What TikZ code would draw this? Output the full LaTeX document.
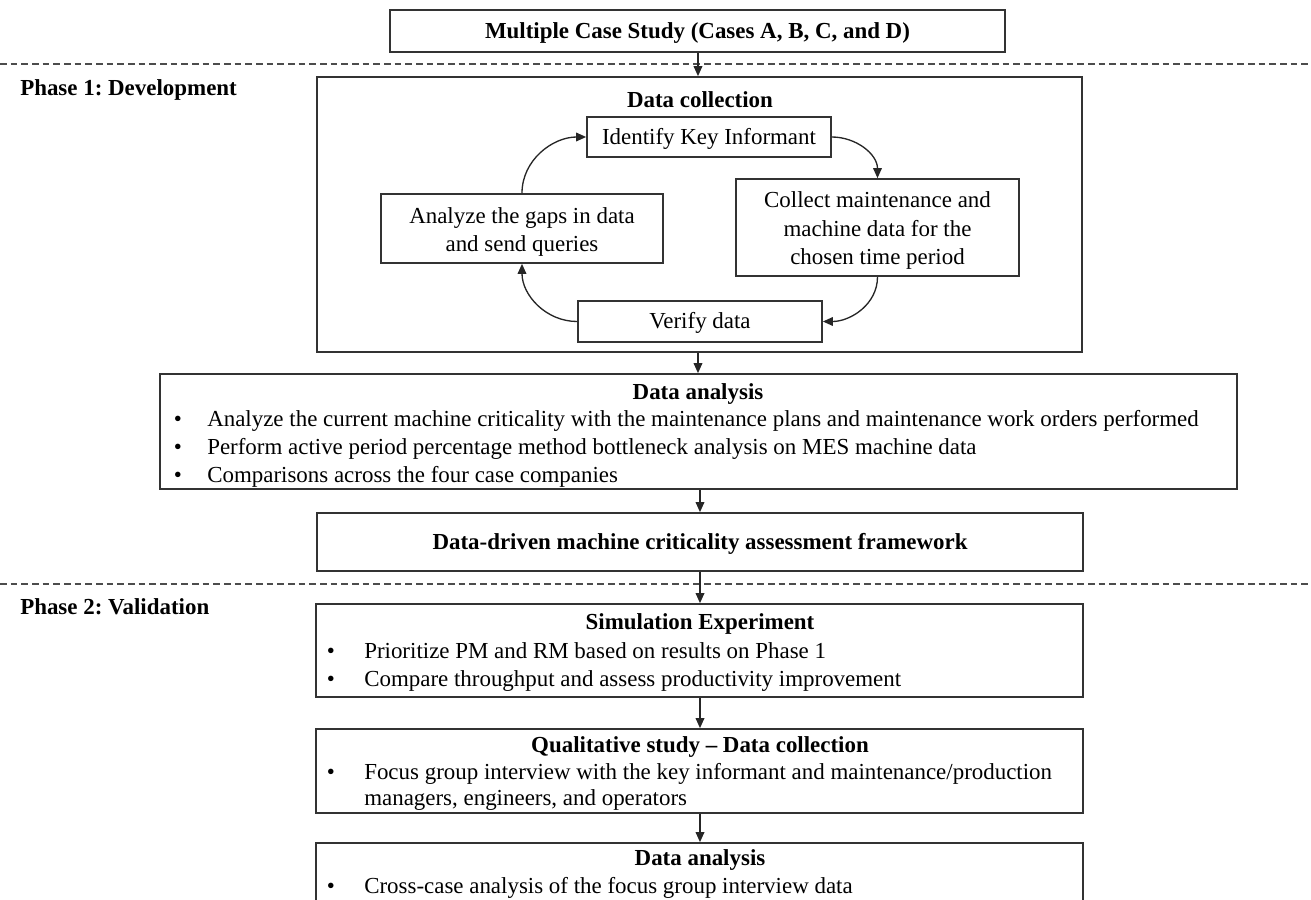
\documentclass[tikz,border=0pt]{standalone}
\usepackage{fontspec}
\setmainfont{Liberation Serif}
\usetikzlibrary{arrows.meta}
\frenchspacing
\tikzset{
  frame/.style={draw=black!80, line width=1.3pt, inner sep=0pt, fill=none},
  txt/.style={inner sep=0pt, yshift=-3pt, font=\fontsize{17.2}{21.4}\selectfont, text height=0.68em, text depth=0.2em},
  ttl/.style={txt, font=\fontsize{17.2}{21.4}\selectfont\bfseries},
  multi/.style={inner sep=0pt, yshift=-2.5pt, align=center, font=\fontsize{17.2}{21.4}\selectfont},
  arr/.style={draw=black!85, line width=1pt, -{Triangle[length=7.5pt,width=6.5pt]}},
  phase/.style={draw=black!70, line width=1.1pt, dash pattern=on 5pt off 3pt},
  bul/.style={txt}
}
\begin{document}
\begin{tikzpicture}[x=0.75pt,y=-0.75pt]
\useasboundingbox (0,0) rectangle (1311,900);
\clip (0,0) rectangle (1311,900);

% separators
\coordinate (sepA1) at (0,64);
\coordinate (sepA2) at (1311,64);
\coordinate (sepB1) at (0,584);
\coordinate (sepB2) at (1311,584);
\draw[phase] (sepA1) -- (sepA2);
\draw[phase] (sepB1) -- (sepB2);

\node[ttl, anchor=west] (ph1) at (20,88) {Phase 1: Development};
\node[ttl, anchor=west] (ph2) at (20,607) {Phase 2: Validation};

% top box
\node[frame, minimum width=615*0.75pt, minimum height=42*0.75pt] (top) at (697.5,31) {};
\node[ttl] (toptxt) at (top.center) {Multiple Case Study (Cases A, B, C, and D)};

% data collection
\node[frame, minimum width=765*0.75pt, minimum height=275*0.75pt] (dc) at (699.5,214.5) {};
\node[ttl] (dctitle) at (700,100) {Data collection};
\node[frame, minimum width=244*0.75pt, minimum height=40*0.75pt] (ident) at (709,137) {};
\node[txt] (identtxt) at (ident.center) {Identify Key Informant};
\node[frame, minimum width=283*0.75pt, minimum height=97*0.75pt] (coll) at (877.5,227.5) {};
\node[multi] (colltxt) at (coll.center) {Collect maintenance and\\machine data for the\\chosen time period};
\node[frame, minimum width=282*0.75pt, minimum height=69*0.75pt] (gaps) at (522,228.5) {};
\node[multi] (gapstxt) at (gaps.center) {Analyze the gaps in data\\and send queries};
\node[frame, minimum width=244*0.75pt, minimum height=41*0.75pt] (verify) at (700,321.5) {};
\node[txt] (verifytxt) at (verify.center) {Verify data};

\draw[arr] (ident.east) to[out=0,in=90] (coll.north);
\draw[arr] (coll.south) to[out=-90,in=0] (verify.east);
\draw[arr] (verify.west) to[out=180,in=-90] (gaps.south);
\draw[arr] (gaps.north) to[out=90,in=180] (ident.west);

% data analysis (phase 1)
\node[frame, minimum width=1077*0.75pt, minimum height=115*0.75pt] (dana) at (698.5,431.5) {};
\node[ttl] (danatitle) at (698,392) {Data analysis};
\node[bul] (db1) at (178,419) {\textbullet};
\node[txt, anchor=west] (dt1) at (207,419) {Analyze the current machine criticality with the maintenance plans and maintenance work orders performed};
\node[bul] (db2) at (178,447) {\textbullet};
\node[txt, anchor=west] (dt2) at (207,447) {Perform active period percentage method bottleneck analysis on MES machine data};
\node[bul] (db3) at (178,475) {\textbullet};
\node[txt, anchor=west] (dt3) at (207,475) {Comparisons across the four case companies};

% framework
\node[frame, minimum width=766*0.75pt, minimum height=58*0.75pt] (fw) at (700,542) {};
\node[ttl] (fwtxt) at (fw.center) {Data-driven machine criticality assessment framework};

% simulation
\node[frame, minimum width=767*0.75pt, minimum height=93*0.75pt] (sim) at (699.5,650.5) {};
\node[ttl] (simtitle) at (700,622) {Simulation Experiment};
\node[bul] (sb1) at (331,651) {\textbullet};
\node[txt, anchor=west] (st1) at (364,651) {Prioritize PM and RM based on results on Phase 1};
\node[bul] (sb2) at (331,679) {\textbullet};
\node[txt, anchor=west] (st2) at (364,679) {Compare throughput and assess productivity improvement};

% qualitative
\node[frame, minimum width=767*0.75pt, minimum height=84*0.75pt] (qual) at (699.5,771) {};
\node[ttl] (qualtitle) at (700,745) {Qualitative study -- Data collection};
\node[bul] (qb1) at (331,772) {\textbullet};
\node[txt, anchor=west] (qt1) at (364,772) {Focus group interview with the key informant and maintenance/production};
\node[txt, anchor=west] (qt2) at (364,798) {managers, engineers, and operators};

% final data analysis
\node[frame, minimum width=767*0.75pt, minimum height=76*0.75pt] (fin) at (699.5,881) {};
\node[ttl] (fintitle) at (700,858) {Data analysis};
\node[bul] (fb1) at (331,886) {\textbullet};
\node[txt, anchor=west] (ft1) at (364,886) {Cross-case analysis of the focus group interview data};

% vertical arrows
\coordinate (ax) at (698,0);
\coordinate (bx) at (700,0);
\draw[arr] (ax |- top.south) -- (ax |- dc.north);
\draw[arr] (ax |- dc.south) -- (ax |- dana.north);
\draw[arr] (bx |- dana.south) -- (bx |- fw.north);
\draw[arr] (bx |- fw.south) -- (bx |- sim.north);
\draw[arr] (bx |- sim.south) -- (bx |- qual.north);
\draw[arr] (bx |- qual.south) -- (bx |- fin.north);
\end{tikzpicture}
\end{document}
